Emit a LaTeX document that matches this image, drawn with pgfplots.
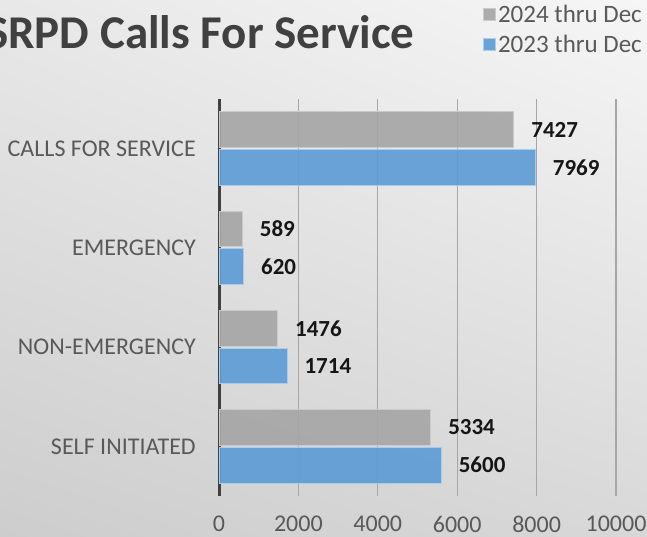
\documentclass[border=0pt]{standalone}
\usepackage{pgfplots}
\pgfplotsset{compat=1.18}
\usetikzlibrary{shadings}
\usepackage{fontspec}
\setmainfont{Carlito}

\definecolor{bargrey}{HTML}{A5A5A5}
\definecolor{bargreyedge}{HTML}{CACACA}
\definecolor{barblue}{HTML}{5B9BD5}
\definecolor{barblueedge}{HTML}{A9CCEC}
\definecolor{labelgrey}{HTML}{595959}
\definecolor{titlegrey}{HTML}{404040}
\definecolor{gridgrey}{HTML}{A6A6A6}
\definecolor{bgul}{HTML}{E8E8E8}
\definecolor{bgur}{HTML}{F6F6F6}
\definecolor{bgll}{HTML}{CDCDCD}
\definecolor{bglr}{HTML}{D8D8D8}

\begin{document}
\begin{tikzpicture}
\useasboundingbox (0,0) rectangle (647pt,537pt);
\clip (0,0) rectangle (647pt,537pt);
% slide background: light diagonal gradient
\shade[upper left=bgul, upper right=bgur, lower left=bgll, lower right=bglr]
  (0,0) rectangle (647pt,537pt);

\node[anchor=base east, text=titlegrey,
      font=\fontsize{47}{52}\selectfont\bfseries] at (418pt,488pt) {SRPD Calls For Service};

\begin{axis}[
  at={(219pt,41pt)}, anchor=south west,
  scale only axis,
  width=397pt, height=397pt,
  xbar,
  bar width=0.36,
  xmin=0, xmax=10000,
  ymin=-0.5, ymax=3.5,
  ytick={0,1,2,3},
  yticklabels={SELF INITIATED,NON-EMERGENCY,EMERGENCY,CALLS FOR SERVICE},
  xtick={2000,4000,...,10000},
  extra x ticks={0},
  extra x tick labels={0},
  extra x tick style={grid style={draw=titlegrey, line width=3pt}},
  scaled x ticks=false,
  xmajorgrids,
  grid style={draw=gridgrey, line width=1.3pt},
  axis line style={draw=none},
  major tick length=0pt,
  /pgf/number format/assume math mode=true,
  /pgf/number format/1000 sep={},
  tick label style={font=\fontsize{24}{28}\selectfont, text=labelgrey, inner sep=0pt},
  yticklabel style={anchor=east, xshift=-23pt},
  xticklabel style={anchor=north, yshift=-20pt},
  point meta=x,
  nodes near coords,
  nodes near coords style={font=\fontsize{23}{27}\selectfont\bfseries, text=black,
    anchor=west, inner sep=0pt, xshift=17pt,
    /pgf/number format/1000 sep={}},
  legend style={at={(0.657,1.247)}, anchor=north west, draw=none, fill=none,
    font=\fontsize{25}{29}\selectfont, text=labelgrey, row sep=7pt,
    /tikz/every even column/.append style={column sep=3pt}},
  legend cell align=left,
  legend image code/.code={\fill[#1] (0pt,-6pt) rectangle (12pt,6pt);},
]
\addplot[fill=bargrey, draw=bargreyedge, line width=1pt, fill opacity=0.9, bar shift=0.19]
  coordinates {(5334,0) (1476,1) (589,2) (7427,3)};
\addplot[fill=barblue, draw=barblueedge, line width=1pt, fill opacity=0.9, bar shift=-0.19]
  coordinates {(5600,0) (1714,1) (620,2) (7969,3)};
\legend{2024 thru Dec, 2023 thru Dec}
\end{axis}
\end{tikzpicture}
\end{document}
